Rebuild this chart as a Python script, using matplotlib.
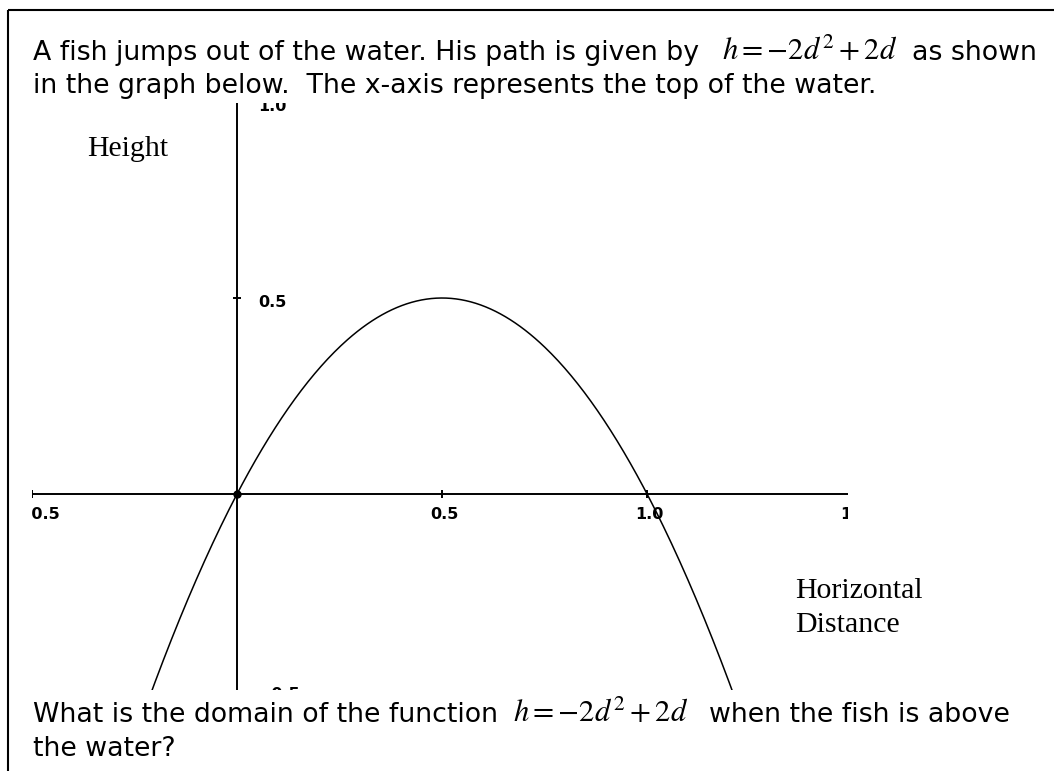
import numpy as np
import matplotlib
matplotlib.use("Agg")
import matplotlib.pyplot as plt
from matplotlib.transforms import offset_copy

# fish path h = a*d^2 + b*d + c
coef_a, coef_b, coef_c = -2, 2, 0
d_start, d_end = -0.3, 1.3

x_ticks = [-0.5, 0.5, 1.0, 1.5]
x_tick_labels = ["\u22120.5", "0.5", "1.0", "1.5"]
y_ticks = [-0.5, 0.5, 1.0]
y_tick_labels = ["\u22120.5", "0.5", "1.0"]

question_top = ["A fish jumps out of the water. His path is given by",
                "in the graph below.  The x-axis represents the top of the water."]
question_bottom = ["What is the domain of the function",
                   "the water?"]
equation = r"$h=-2d^2+2d$"

W, H = 1054, 771
fig = plt.figure(figsize=(W / 100, H / 100), dpi=100)
fig.patch.set_facecolor("white")

# page layer in pixel coordinates
page = fig.add_axes([0, 0, 1, 1])
page.set_xlim(0, W)
page.set_ylim(H, 0)
page.axis("off")

plt.rcParams["mathtext.fontset"] = "stix"

body = dict(family="DejaVu Sans", fontsize=19.3, color="black", va="baseline")
page.text(33, 60, question_top[0], **body)
page.text(722, 60, equation, fontsize=22, va="baseline")
page.text(912, 60, "as shown", **body)
page.text(33, 93, question_top[1], **body)

page.text(33, 722, question_bottom[0], **body)
page.text(513, 722, equation, fontsize=22, va="baseline")
page.text(709, 722, "when the fish is above", **body)
page.text(33, 756, question_bottom[1], **body)

serif = dict(family="Liberation Serif", fontsize=21.5, color="black", va="baseline")
page.text(87, 156, "Height", **serif)
page.text(795, 598, "Horizontal", **serif)
page.text(795, 632, "Distance", **serif)

# box edges
page.plot([8, W], [10, 10], color="black", lw=1.5, solid_capstyle="butt")
page.plot([8, 8], [10, H], color="black", lw=1.5, solid_capstyle="butt")

# graph area
px_left, px_right, px_top, px_bottom = 32, 848, 102.8, 690
y_low, y_high = -0.5, 0.998
ax = fig.add_axes([px_left / W, 1 - px_bottom / H,
                   (px_right - px_left) / W, (px_bottom - px_top) / H])
ax.set_xlim(-0.5, 1.49)
ax.set_ylim(y_low, y_high)
ax.axis("off")

ax.axhline(0, color="black", lw=1.4)
ax.axvline(0, color="black", lw=1.4)

ax.plot(x_ticks, [0] * len(x_ticks), ls="none", marker="|", ms=6,
        mew=1.4, color="black", clip_on=True)
inner_y = [yt for yt in y_ticks if yt > y_low]
ax.plot([0] * len(inner_y), inner_y, ls="none", marker="_", ms=6,
        mew=1.4, color="black", clip_on=True)

lab = dict(family="DejaVu Sans", fontweight="bold", fontsize=11.5,
           color="black", clip_on=True)
for i, (xt, xl) in enumerate(zip(x_ticks, x_tick_labels)):
    if i == 0:
        tr = offset_copy(ax.transData, fig=fig, x=20, y=-9.5, units="points")
        ax.text(xt, 0, xl, transform=tr, ha="right", va="top", **lab)
    else:
        tr = offset_copy(ax.transData, fig=fig, x=1.5, y=-9.5, units="points")
        ax.text(xt, 0, xl, transform=tr, ha="center", va="top", **lab)
for yt, yl in zip(y_ticks, y_tick_labels):
    tr = offset_copy(ax.transData, fig=fig, x=15, y=2.2, units="points")
    ax.text(0, yt, yl, transform=tr, ha="left", va="top", **lab)

d = np.linspace(d_start, d_end, 400)
h = coef_a * d ** 2 + coef_b * d + coef_c
ax.plot(d, h, color="black", lw=1.1)
ax.plot([0], [0], "o", color="black", ms=5)

fig.savefig("out.png", dpi=100, facecolor="white")
